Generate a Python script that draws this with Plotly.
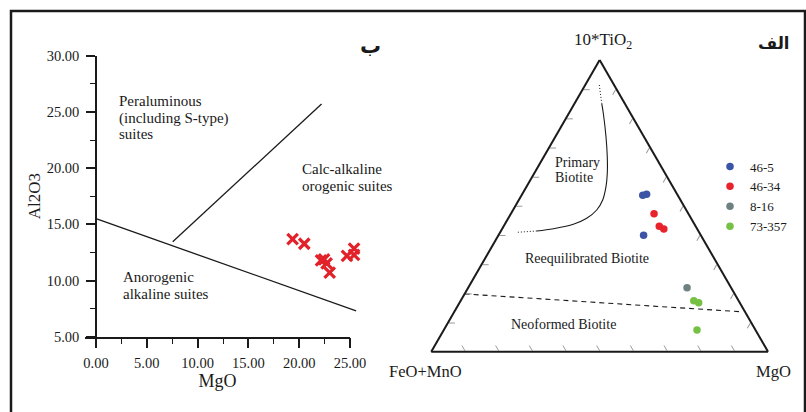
import plotly.graph_objects as go

W, H = 806, 412
def pxx(x): return x / W
def pyy(y): return 1 - y / H

SERIF = "Liberation Serif"
INK = "#1a1a1a"

# ---------- Left panel (ب): Al2O3 vs MgO ----------
mgo = [19.35, 20.5, 22.15, 22.45, 22.7, 23.0, 24.7, 25.4, 25.4]
al2o3 = [13.69, 13.27, 11.8, 11.88, 11.53, 10.7, 12.2, 12.83, 12.27]

bound1_x = [0.0, 25.6]
bound1_y = [15.5, 7.3]
bound2_x = [7.55, 22.2]
bound2_y = [13.45, 25.7]

x_ticks = [0, 5, 10, 15, 20, 25]
y_ticks = [5, 10, 15, 20, 25, 30]

# ---------- Right panel (الف): ternary 10*TiO2 - (FeO+MnO) - MgO ----------
samples = ["46-5", "46-34", "8-16", "73-357"]
colors = ["#3b54a6", "#e8232b", "#6e8181", "#76c043"]
tern_a = [[0.536, 0.540, 0.399], [0.473, 0.430, 0.421], [0.219], [0.175, 0.168, 0.074]]
tern_b = [[0.104, 0.091, 0.170], [0.102, 0.108, 0.099], [0.131], [0.133, 0.122, 0.174]]
tern_c = [[0.360, 0.370, 0.431], [0.425, 0.462, 0.480], [0.650], [0.692, 0.710, 0.752]]

# Primary / re-equilibrated boundary (solid part)
curve_a = [0.8516, 0.8173, 0.7371, 0.6685, 0.6116, 0.5657, 0.5201, 0.4858, 0.4573, 0.4368, 0.4217, 0.4138]
curve_b = [0.0681, 0.0805, 0.1126, 0.1431, 0.1715, 0.1983, 0.2309, 0.2658, 0.3098, 0.3597, 0.4265, 0.4797]
curve_c = [0.0803, 0.1022, 0.1503, 0.1884, 0.2169, 0.2360, 0.2490, 0.2484, 0.2329, 0.2035, 0.1518, 0.1065]
# dotted extensions
dot_top_a = [0.9143, 0.8516]
dot_top_b = [0.0439, 0.0681]
dot_top_c = [0.0418, 0.0803]
dot_end_a = [0.4138, 0.4093]
dot_end_b = [0.4797, 0.5413]
dot_end_c = [0.1065, 0.0494]
# re-equilibrated / neoformed boundary (dashed)
dash_a = [0.198, 0.137]
dash_b = [0.802, 0.013]
dash_c = [0.000, 0.850]

fig = go.Figure()

# left panel traces (data axis "x" is a hidden, slightly wider twin of the drawn axis "x2")
fig.add_trace(go.Scatter(x=bound1_x, y=bound1_y, mode="lines", line=dict(color=INK, width=1.3),
                         showlegend=False, hoverinfo="skip"))
fig.add_trace(go.Scatter(x=bound2_x, y=bound2_y, mode="lines", line=dict(color=INK, width=1.3),
                         showlegend=False, hoverinfo="skip", xaxis="x2"))
fig.add_trace(go.Scatter(x=mgo, y=al2o3, mode="markers", showlegend=False, cliponaxis=False,
                         marker=dict(symbol="x-thin", size=10.5,
                                     line=dict(color="#e2222a", width=3.2), color="#e2222a")))

# ternary boundary lines
fig.add_trace(go.Scatterternary(a=curve_a, b=curve_b, c=curve_c, mode="lines",
                                line=dict(color=INK, width=1.1, shape="spline"),
                                showlegend=False, hoverinfo="skip"))
for aa, bb, cc in [(dot_top_a, dot_top_b, dot_top_c), (dot_end_a, dot_end_b, dot_end_c)]:
    fig.add_trace(go.Scatterternary(a=aa, b=bb, c=cc, mode="lines",
                                    line=dict(color=INK, width=1, dash="1px,2px"),
                                    showlegend=False, hoverinfo="skip"))
fig.add_trace(go.Scatterternary(a=dash_a, b=dash_b, c=dash_c, mode="lines",
                                line=dict(color=INK, width=1.1, dash="5px,4px"),
                                showlegend=False, hoverinfo="skip"))

for name, col, aa, bb, cc in zip(samples, colors, tern_a, tern_b, tern_c):
    fig.add_trace(go.Scatterternary(a=aa, b=bb, c=cc, mode="markers", name=name,
                                    marker=dict(color=col, size=7.5)))

tern_axis = dict(title=dict(text=""), showline=True, linecolor=INK, linewidth=2,
                 showgrid=False, showticklabels=False, ticks="inside", ticklen=6,
                 tickwidth=1, tickcolor="#9a9a9a", dtick=0.1, min=0)

PXU = (350 - 96) / 25.0  # pixels per MgO unit
x_lo = -(96 - 85) / PXU
x_hi_data = 25 + (358 - 350) / PXU

fig.update_layout(
    width=W, height=H,
    margin=dict(l=0, r=0, t=0, b=0, autoexpand=False),
    paper_bgcolor="white", plot_bgcolor="rgba(0,0,0,0)",
    font=dict(family=SERIF, color=INK, size=14),
    xaxis=dict(domain=[pxx(85), pxx(358)], range=[x_lo, x_hi_data], visible=False,
               showgrid=False, zeroline=False, anchor="y"),
    xaxis2=dict(domain=[pxx(85), pxx(350)], range=[x_lo, 25], anchor="y",
                showgrid=False, zeroline=False,
                showline=True, linecolor=INK, linewidth=1.5,
                tickmode="array", tickvals=x_ticks, ticktext=[f"{v:.2f}" for v in x_ticks],
                ticks="outside", ticklen=10, tickwidth=1.5, tickcolor=INK,
                ticklabelstandoff=2,
                minor=dict(dtick=2.5, tick0=0, ticks="outside", ticklen=6, tickwidth=1.2, tickcolor=INK),
                tickfont=dict(family=SERIF, size=14.5),
                title=dict(text="MgO", font=dict(family=SERIF, size=18), standoff=2)),
    yaxis=dict(domain=[pyy(336.7), pyy(55.7)], range=[5, 30], anchor="free", position=pxx(96),
               showgrid=False, zeroline=False, showline=True, linecolor=INK, linewidth=1.5,
               tickmode="array", tickvals=y_ticks, ticktext=[f"{v:.2f}" for v in y_ticks],
               ticks="outside", ticklen=9, tickwidth=1.5, tickcolor=INK,
               ticklabelstandoff=4,
               minor=dict(dtick=2.5, tick0=5, ticks="outside", ticklen=5, tickwidth=1.2, tickcolor=INK),
               tickfont=dict(family=SERIF, size=14.5),
               title=dict(text="Al2O3", font=dict(family=SERIF, size=17), standoff=1)),
    ternary=dict(domain=dict(x=[pxx(431), pxx(768.3)], y=[pyy(351.7), pyy(60)]),
                 sum=1, bgcolor="white",
                 aaxis=tern_axis, baxis=tern_axis, caxis=tern_axis),
    legend=dict(x=pxx(710), y=pyy(196.5), xanchor="left", yanchor="middle",
                font=dict(family=SERIF, size=13), bgcolor="rgba(0,0,0,0)",
                tracegroupgap=0),
    showlegend=True,
)

ann = []
def add(text, x, y, size, xanchor="left", xref="paper", yref="paper", family=SERIF):
    ann.append(dict(text=text, x=x, y=y, xref=xref, yref=yref, showarrow=False,
                    xanchor=xanchor, yanchor="middle",
                    font=dict(family=family, size=size, color=INK)))

# left-panel region labels (data coordinates)
add("Peraluminous", 2.04, 25.94, 15, xref="x", yref="y")
add("(including S-type)", 2.04, 24.40, 15, xref="x", yref="y")
add("suites", 2.04, 23.01, 15, xref="x", yref="y")
add("Calc-alkaline", 20.08, 19.89, 15, xref="x", yref="y")
add("orogenic suites", 20.08, 18.43, 15, xref="x", yref="y")
add("Anorogenic", 2.43, 10.28, 15, xref="x", yref="y")
add("alkaline suites", 2.43, 8.80, 15, xref="x", yref="y")

# ternary labels
add("Primary", pxx(552.7), pyy(162.7), 14)
add("Biotite", pxx(552.7), pyy(177.5), 14)
add("Reequilibrated Biotite", pxx(523.3), pyy(258.3), 14)
add("Neoformed Biotite", pxx(508.7), pyy(324), 14)
add("10*TiO<sub>2</sub>", pxx(603), pyy(41), 17, xanchor="center")
add("FeO+MnO", pxx(425.5), pyy(371.5), 16.5, xanchor="center")
add("MgO", pxx(773.7), pyy(371), 16.5, xanchor="center")

# panel letters
add("<b>ب</b>", pxx(370.5), pyy(46), 21, xanchor="center", family="DejaVu Sans")
add("<b>الف</b>", pxx(774), pyy(44), 16.5, xanchor="center", family="DejaVu Sans")

fig.update_layout(annotations=ann)

# frame
fig.add_shape(type="rect", xref="paper", yref="paper",
              x0=pxx(11), x1=pxx(805), y0=-0.3, y1=pyy(11),
              line=dict(color=INK, width=2.5), fillcolor="rgba(0,0,0,0)", layer="below")

fig.write_html("out.html")
